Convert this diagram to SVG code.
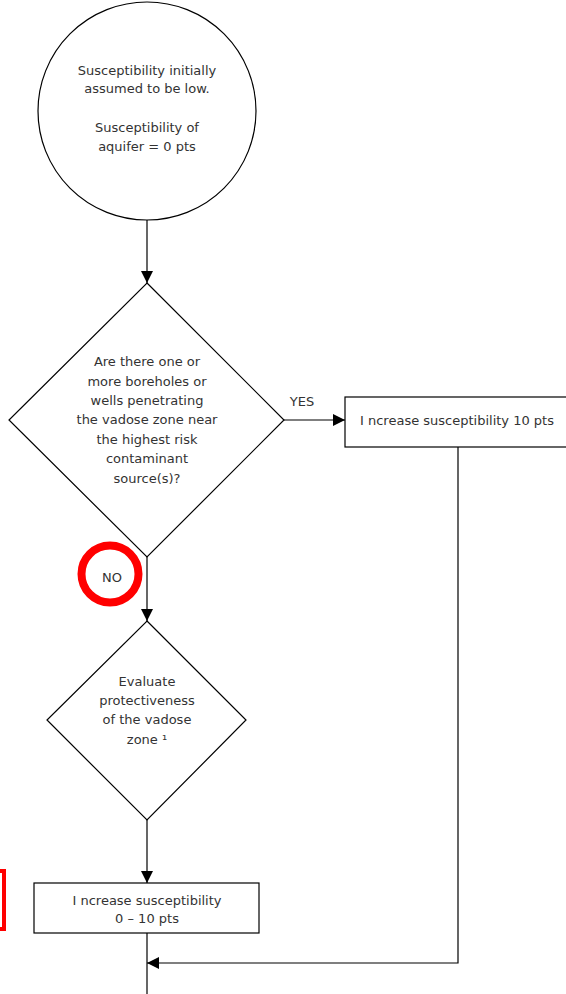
<svg xmlns="http://www.w3.org/2000/svg" width="566" height="994" viewBox="0 0 566 994">
  <style>
    .shape { fill: #fff; stroke: #000; stroke-width: 1.2; }
    .wire { fill: none; stroke: #000; stroke-width: 1.2; }
    .lbl { font-family: "DejaVu Sans", "Liberation Sans", sans-serif; font-size: 13px; fill: #333; text-anchor: middle; }
    .mark { fill: none; stroke: #ff0000; }
  </style>
  <defs>
    <marker id="arrow" viewBox="0 0 12 12" refX="12" refY="6" markerWidth="12" markerHeight="12" markerUnits="userSpaceOnUse" orient="auto">
      <path d="M0,0 L12,6 L0,12 Z" fill="#000"/>
    </marker>
  </defs>
  <rect width="566" height="994" fill="#fff"/>

  <g id="connectors">
    <line class="wire" x1="147" y1="220" x2="147" y2="283" marker-end="url(#arrow)"/>
    <line class="wire" x1="284" y1="420" x2="345" y2="420" marker-end="url(#arrow)"/>
    <line class="wire" x1="147" y1="557" x2="147" y2="621" marker-end="url(#arrow)"/>
    <line class="wire" x1="147" y1="820" x2="147" y2="883" marker-end="url(#arrow)"/>
    <line class="wire" x1="147" y1="933" x2="147" y2="994"/>
    <polyline class="wire" points="458,447 458,963 147,963" marker-end="url(#arrow)"/>
  </g>

  <g id="start">
    <circle class="shape" cx="147" cy="111" r="109"/>
    <text class="lbl" x="147" y="75">Susceptibility initially</text>
    <text class="lbl" x="147" y="93">assumed to be low.</text>
    <text class="lbl" x="147" y="132">Susceptibility of</text>
    <text class="lbl" x="147" y="151">aquifer = 0 pts</text>
  </g>

  <g id="boreholes">
    <polygon class="shape" points="147,283 284,420 147,557 9,420"/>
    <text class="lbl" x="147" y="366">Are there one or</text>
    <text class="lbl" x="147" y="386">more boreholes or</text>
    <text class="lbl" x="147" y="405">wells penetrating</text>
    <text class="lbl" x="147" y="424">the vadose zone near</text>
    <text class="lbl" x="147" y="444">the highest risk</text>
    <text class="lbl" x="147" y="463">contaminant</text>
    <text class="lbl" x="147" y="483">source(s)?</text>
  </g>

  <g id="yes-label">
    <text class="lbl" x="302" y="406">YES</text>
  </g>

  <g id="increase-10">
    <rect class="shape" x="345" y="397" width="230" height="50"/>
    <text class="lbl" x="457" y="425">I ncrease susceptibility 10 pts</text>
  </g>

  <g id="no-label">
    <circle class="mark" cx="110" cy="574" r="28.5" stroke-width="8"/>
    <text class="lbl" x="112" y="582">NO</text>
  </g>

  <g id="vadose">
    <polygon class="shape" points="147,621 246,720 147,820 47,720"/>
    <text class="lbl" x="147" y="686">Evaluate</text>
    <text class="lbl" x="147" y="705">protectiveness</text>
    <text class="lbl" x="147" y="724">of the vadose</text>
    <text class="lbl" x="147" y="744">zone ¹</text>
  </g>

  <g id="increase-0-10">
    <rect class="shape" x="34" y="883" width="225" height="50"/>
    <text class="lbl" x="147" y="905">I ncrease susceptibility</text>
    <text class="lbl" x="147" y="923">0 – 10 pts</text>
  </g>

  <g id="side-mark">
    <rect class="mark" x="-20" y="871" width="24" height="58" stroke-width="4"/>
  </g>
</svg>
